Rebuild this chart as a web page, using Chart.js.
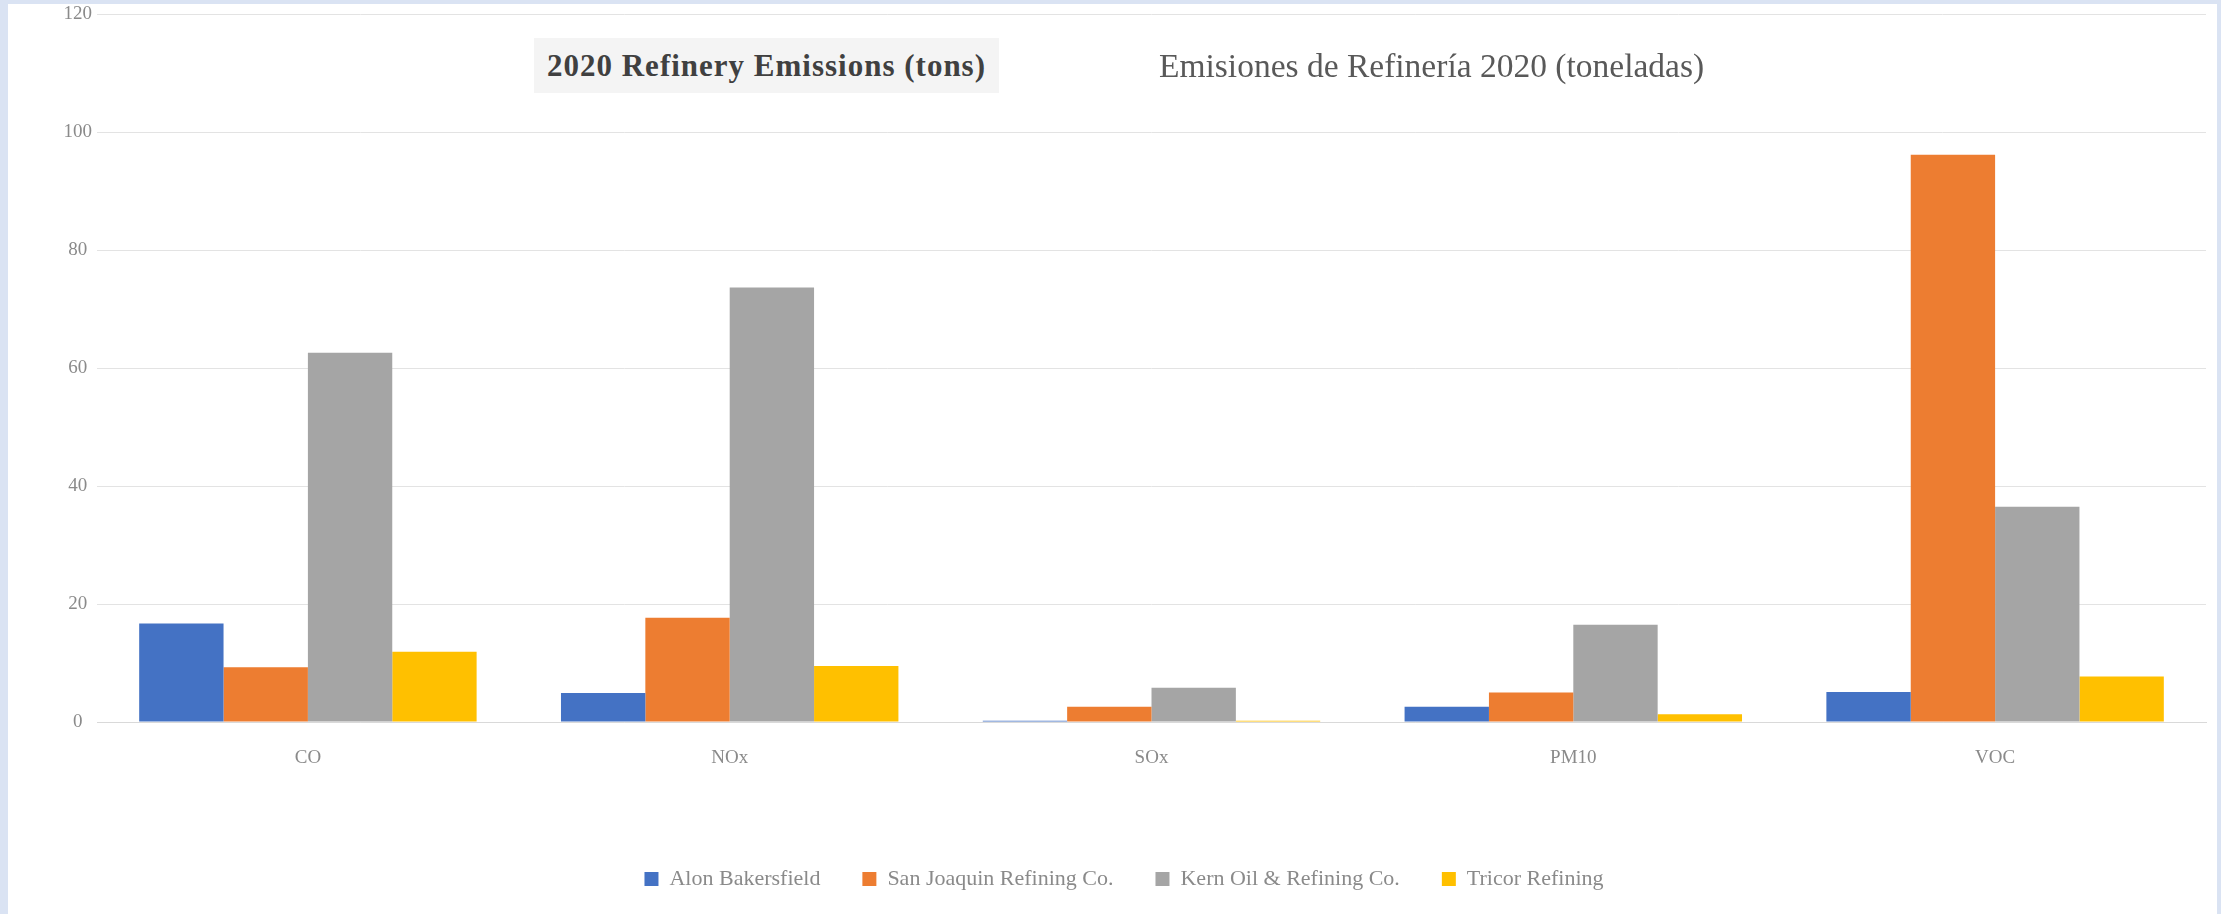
<!DOCTYPE html>
<html>
<head>
<meta charset="utf-8">
<script src="https://cdn.jsdelivr.net/npm/chart.js@4.4.1/dist/chart.umd.min.js"></script>
<style>
    html, body { margin: 0; padding: 0; }
    body { width: 2221px; height: 914px; background: #dae3f3; overflow: hidden; position: relative; }
    #card { position: absolute; left: 8px; top: 4px; width: 2209px; height: 910px; background: #fff; }
    #chartBox { position: absolute; left: 0; top: -6px; width: 2209px; height: 916px; }
    .title { position: absolute; font-family: "Liberation Serif", "DejaVu Serif", serif; white-space: nowrap; line-height: 1; }
    #titleEn { left: 534px; top: 38px; width: 465px; height: 55px; background: #f4f4f4; color: #404040; font-size: 31px; font-weight: bold; letter-spacing: 1px; display: flex; align-items: center; justify-content: center; }
    #titleEs { left: 1159px; top: 49px; color: #595959; font-size: 33.5px; }
</style>
</head>
<body>
<div id="card"><div id="chartBox"><canvas id="myChart"></canvas></div></div>
<div class="title" id="titleEn">2020 Refinery Emissions (tons)</div>
<div class="title" id="titleEs">Emisiones de Refinería 2020 (toneladas)</div>
<script>
const pollutants = ["CO", "NOx", "SOx", "PM10", "VOC"]
const refineries = ["Alon Bakersfield", "San Joaquin Refining Co.", "Kern Oil & Refining Co.", "Tricor Refining"]
const alonValues = [16.7, 4.9, 0.2, 2.6, 5.1]
const sanJoaquinValues = [9.3, 17.7, 2.6, 5.0, 96.2]
const kernValues = [62.6, 73.7, 5.8, 16.5, 36.5]
const tricorValues = [11.9, 9.5, 0.2, 1.3, 7.7]
const yTicks = [0, 20, 40, 60, 80, 100, 120]

const colors = ["#4472c4", "#ed7d31", "#a5a5a5", "#ffc000"]
const seriesValues = [alonValues, sanJoaquinValues, kernValues, tricorValues]
const fontFamily = "'Liberation Serif', 'DejaVu Serif', serif"
const labelColor = "#8a8a8a"

const data = {
    labels: pollutants,
    datasets: refineries.map((name, i) => {
        return {
            label: name,
            data: seriesValues[i],
            backgroundColor: colors[i],
            borderWidth: 0,
            barPercentage: 1.0,
            categoryPercentage: 0.8,
        }
    })
}

// legend in the original sits a bit right of the middle
const legendShift = {
    id: 'legendShift',
    afterLayout: (chart) => {
        chart.legend.left += 17
        chart.legend.right += 17
    }
}

const config = {
    type: 'bar',
    data: data,
    plugins: [legendShift],
    options: {
        responsive: true,
        maintainAspectRatio: false,
        animation: false,
        layout: { padding: { left: 0, right: 11, top: 0, bottom: 14 } },
        plugins: {
            legend: {
                position: 'bottom',
                labels: { boxWidth: 14, boxHeight: 14, padding: 42, color: labelColor, font: { family: fontFamily, size: 22 } }
            },
            tooltip: { enabled: false }
        },
        scales: {
            x: {
                grid: { display: false, drawTicks: false },
                border: { color: '#d9d9d9' },
                ticks: { padding: 25, color: labelColor, font: { family: fontFamily, size: 19 } },
                afterFit: (scale) => { scale.height = 104 }
            },
            y: {
                min: 0,
                max: 120,
                afterBuildTicks: (scale) => { scale.ticks = yTicks.map(v => ({ value: v })) },
                ticks: { padding: 5, crossAlign: 'center', color: labelColor, font: { family: fontFamily, size: 19 } },
                grid: { color: '#e3e3e3', drawTicks: false },
                border: { display: false },
                afterFit: (scale) => { scale.width = 89 }
            }
        }
    }
}

new Chart(document.querySelector("#myChart"), config)
</script>
</body>
</html>
